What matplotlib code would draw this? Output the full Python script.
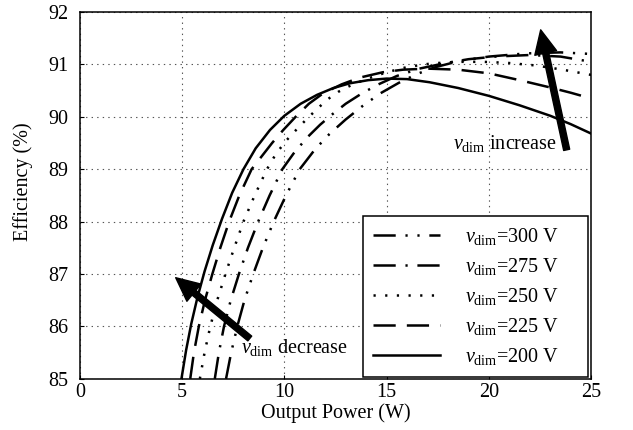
import matplotlib

matplotlib.use("Agg")

import matplotlib.pyplot as plt  # noqa: E402

# Efficiency vs output power for several dimming voltages
p_200 = [4.97, 5.2, 5.45, 5.75, 6.1, 6.5, 6.95, 7.45, 8.0, 8.6, 9.3, 10.0,
         10.8, 11.6, 12.4, 13.2, 14.1, 15.0, 16.0, 17.1, 18.5, 20.0, 21.5,
         23.0, 24.0, 25.0]
e_200 = [85.0, 85.55, 86.05, 86.55, 87.05, 87.55, 88.05, 88.55, 89.0, 89.4,
         89.75, 90.02, 90.25, 90.42, 90.55, 90.64, 90.7, 90.73, 90.72, 90.66,
         90.55, 90.4, 90.22, 90.02, 89.86, 89.68]

p_225 = [5.4, 5.58, 5.82, 6.12, 6.48, 6.87, 7.3, 7.8, 8.4, 8.9, 9.4, 9.95,
         10.55, 11.2, 11.9, 12.8, 13.7, 14.8, 15.8, 17.0, 18.5, 20.0, 21.5,
         23.0, 24.0, 25.0]
e_225 = [85.0, 85.5, 86.0, 86.5, 87.0, 87.5, 88.0, 88.5, 89.0, 89.25, 89.5,
         89.75, 90.0, 90.25, 90.45, 90.62, 90.75, 90.85, 90.9, 90.92, 90.9,
         90.83, 90.7, 90.56, 90.46, 90.35]

p_250 = [5.87, 6.1, 6.38, 6.72, 7.12, 7.55, 8.0, 8.55, 9.15, 9.6, 10.1, 10.6,
         11.1, 11.6, 12.1, 12.65, 13.25, 14.0, 15.0, 16.0, 17.2, 18.5, 19.7,
         20.9, 22.3, 23.6, 25.0]
e_250 = [85.0, 85.5, 86.0, 86.5, 87.0, 87.5, 88.0, 88.5, 89.0, 89.3, 89.55,
         89.76, 89.96, 90.15, 90.33, 90.48, 90.6, 90.72, 90.85, 90.95, 91.02,
         91.05, 91.05, 91.03, 90.98, 90.9, 90.8]

p_275 = [6.6, 6.8, 7.05, 7.38, 7.78, 8.22, 8.72, 9.28, 9.9, 10.45, 11.1, 11.75,
         12.35, 13.0, 13.8, 14.6, 15.5, 16.6, 17.8, 19.0, 20.3, 22.0, 23.5,
         25.0]
e_275 = [85.0, 85.5, 86.0, 86.5, 87.0, 87.5, 88.0, 88.5, 89.0, 89.3, 89.6,
         89.85, 90.05, 90.25, 90.45, 90.62, 90.78, 90.92, 91.02, 91.1, 91.15,
         91.18, 91.15, 91.05]

p_300 = [7.15, 7.4, 7.7, 8.05, 8.48, 8.95, 9.48, 10.08, 10.75, 11.5, 12.2,
         13.0, 13.8, 14.7, 15.6, 16.5, 17.4, 18.6, 20.0, 21.8, 23.5, 25.0]
e_300 = [85.0, 85.5, 86.0, 86.5, 87.0, 87.5, 88.0, 88.5, 89.0, 89.38, 89.67,
         89.95, 90.2, 90.45, 90.65, 90.82, 90.95, 91.07, 91.15, 91.21, 91.23,
         91.2]

voltages = ["300", "275", "250", "225", "200"]
x_ticks = [0, 5, 10, 15, 20, 25]
y_ticks = [85, 86, 87, 88, 89, 90, 91, 92]

plt.rcParams["font.family"] = ["Liberation Serif", "DejaVu Serif"]
plt.rcParams["mathtext.fontset"] = "custom"
plt.rcParams["mathtext.rm"] = "Liberation Serif"
plt.rcParams["mathtext.it"] = "Liberation Serif:italic"
plt.rcParams["lines.scale_dashes"] = False

fs = 14.5

fig = plt.figure(figsize=(6.33, 4.3), dpi=100)
ax = fig.add_axes([0.126, 0.119, 0.808, 0.853])

styles = {
    "300": (0, (16, 7, 1.6, 7, 1.6, 7)),
    "275": (0, (16, 7, 1.6, 7)),
    "250": (0, (1.6, 6.8)),
    "225": (0, (16, 8)),
    "200": "-",
}
series = {
    "300": (p_300, e_300),
    "275": (p_275, e_275),
    "250": (p_250, e_250),
    "225": (p_225, e_225),
    "200": (p_200, e_200),
}

for v in voltages:
    p, e = series[v]
    ax.plot(p, e, color="black", linewidth=1.8, linestyle=styles[v],
            label=r"$v_{\mathrm{dim}}$=" + v + " V")

ax.set_xlim(0, 25)
ax.set_ylim(85, 92)
ax.set_xticks(x_ticks)
ax.set_yticks(y_ticks)
ax.grid(True, color="#555555", linestyle=(0, (1, 3)), linewidth=0.8)
ax.tick_params(direction="in", length=3, width=0.8, labelsize=fs)
ax.tick_params(axis="y", pad=8)
ax.tick_params(axis="x", pad=3)
for s in ax.spines.values():
    s.set_linewidth(1.1)

ax.set_xlabel("Output Power (W)", fontsize=fs, labelpad=1)
ax.set_ylabel("Efficiency (%)", fontsize=fs)
ax.yaxis.set_label_coords(-0.092, 0.537)

# legend box stretched to a fixed width, entries stay left aligned
leg = ax.legend(loc="lower left", bbox_to_anchor=(0.554, 0.005, 0.44, 0.5),
                mode="expand", fontsize=fs, handlelength=3.3,
                labelspacing=0.45, borderaxespad=0, fancybox=False,
                framealpha=1, edgecolor="black", handletextpad=1.25,
                borderpad=0.5)
leg.get_frame().set_linewidth(1.1)

arrow = dict(arrowstyle="simple,head_length=0.85,head_width=0.8,tail_width=0.22",
             color="black", mutation_scale=20, shrinkA=0, shrinkB=0)
ax.annotate("", xy=(22.53, 91.66), xytext=(23.8, 89.37), arrowprops=arrow)
ax.annotate("", xy=(4.69, 86.93), xytext=(8.31, 85.77), arrowprops=arrow)

ax.text(23.3, 89.5, r"$v_{\mathrm{dim}}$ increase", fontsize=fs,
        ha="right", va="center")
ax.text(7.9, 85.59, r"$v_{\mathrm{dim}}$ decrease", fontsize=fs,
        ha="left", va="center")

plt.savefig("out.png", dpi=100)
